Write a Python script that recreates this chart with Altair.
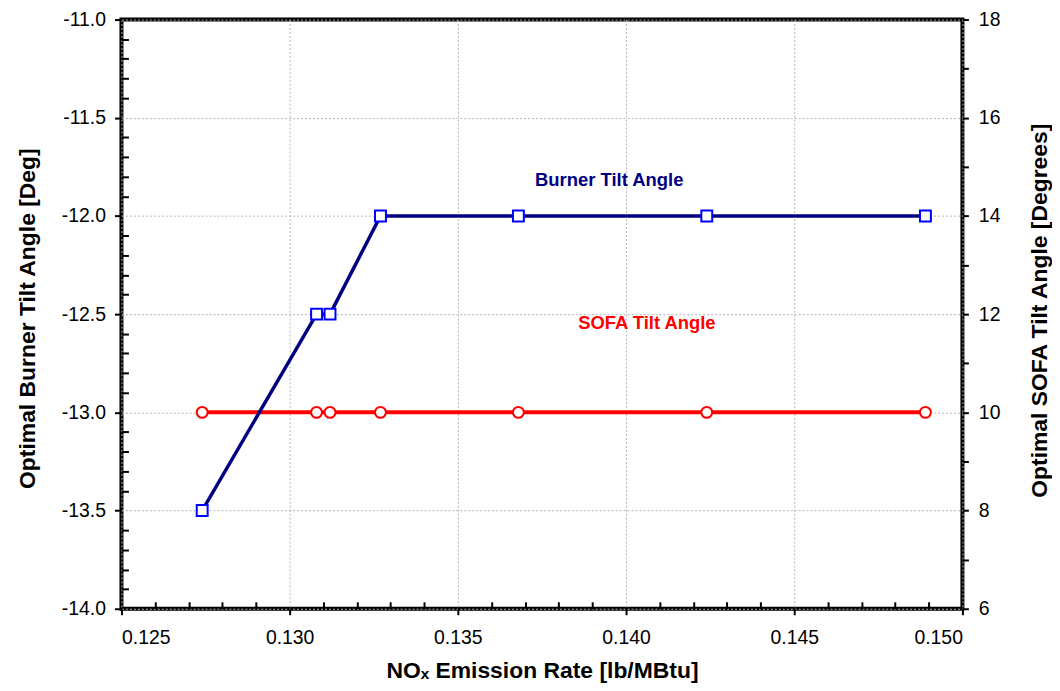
import altair as alt
import numpy as np
import pandas as pd

# ---- data ----
nox = [0.1274, 0.1308, 0.1312, 0.1327, 0.1368, 0.1424, 0.1489]
burner = [-13.5, -12.5, -12.5, -12.0, -12.0, -12.0, -12.0]
sofa = [10, 10, 10, 10, 10, 10, 10]

x_major = [0.125, 0.130, 0.135, 0.140, 0.145, 0.150]
yl_major = [-14.0, -13.5, -13.0, -12.5, -12.0, -11.5, -11.0]
yr_ticks = [round(v, 1) for v in np.arange(6, 18.01, 0.5)]
x_minor = [round(v, 4) for v in np.arange(0.125, 0.1501, 0.001) if round(v, 4) not in x_major]
yl_minor = [round(v, 2) for v in np.arange(-14, -10.99, 0.1) if round(v, 2) not in yl_major]

burner_label = pd.DataFrame({"nox": [0.1395], "burner": [-11.815], "text": ["Burner Tilt Angle"]})
sofa_label = pd.DataFrame({"nox": [0.14062], "sofa": [11.82], "text": ["SOFA Tilt Angle"]})

df = pd.DataFrame({"nox": nox, "burner": burner, "sofa": sofa})

FONT = "Liberation Sans"
W, H = 845, 592
LABEL_SIZE = 19.5
TITLE_SIZE = 23

x_scale = alt.Scale(domain=[0.125, 0.150], nice=False, zero=False)
yl_scale = alt.Scale(domain=[-14, -11], nice=False, zero=False)
yr_scale = alt.Scale(domain=[6, 18], nice=False, zero=False)

x_axis = alt.Axis(
    values=x_major, format=".3f", title="NOₓ Emission Rate [lb/MBtu]",
    grid=True, gridDash=[2, 2], gridColor="#b4b4b4", gridWidth=1,
    domain=False, tickSize=6, tickWidth=2, tickColor="black",
    labelFontSize=LABEL_SIZE, labelPadding=14, labelColor="black", labelFont=FONT,
    titleFont=FONT, titleFontSize=TITLE_SIZE, titleFontWeight="bold", titleColor="black",
    titleX=W / 2, titleY=62, titleBaseline="middle", titleAnchor="middle",
)

yl_axis = alt.Axis(
    values=yl_major, format=".1f", labelExpr="replace(datum.label, '\u2212', '-')",
    title="Optimal Burner Tilt Angle [Deg]",
    grid=True, gridDash=[2, 2], gridColor="#b4b4b4", gridWidth=1,
    domain=False, tickSize=7, tickWidth=2, tickColor="black",
    labelFontSize=LABEL_SIZE, labelPadding=9, labelColor="black", labelFont=FONT,
    titleFont=FONT, titleFontSize=TITLE_SIZE, titleFontWeight="bold", titleColor="black",
    titleAngle=270, titleX=-94, titleY=H / 2 + 4, titleBaseline="middle", titleAlign="center",
)

yr_axis = alt.Axis(
    orient="right", values=yr_ticks, format=".0f",
    labelExpr="datum.value % 2 == 0 ? datum.label : ''",
    title="Optimal SOFA Tilt Angle [Degrees]", grid=False,
    domain=False, tickSize=6, tickWidth=2, tickColor="black",
    labelFontSize=LABEL_SIZE, labelPadding=10, labelColor="black", labelFont=FONT,
    titleFont=FONT, titleFontSize=TITLE_SIZE, titleFontWeight="bold", titleColor="black",
    titleAngle=270, titleX=77, titleY=H / 2 - 4, titleBaseline="middle", titleAlign="center",
)

base = alt.Chart(df)

burner_line = base.mark_line(color="#000080", strokeWidth=3.5).encode(
    x=alt.X("nox:Q", scale=x_scale, axis=x_axis),
    y=alt.Y("burner:Q", scale=yl_scale, axis=yl_axis),
)
burner_pts = base.mark_point(shape="square", color="#0000ff", fill="white", filled=False,
                             size=120, strokeWidth=2, opacity=1).encode(
    x=alt.X("nox:Q", scale=x_scale),
    y=alt.Y("burner:Q", scale=yl_scale),
)
burner_text = alt.Chart(burner_label).mark_text(
    font=FONT, fontSize=18.5, fontWeight="bold", color="#000080", baseline="middle", align="center"
).encode(
    x=alt.X("nox:Q", scale=x_scale),
    y=alt.Y("burner:Q", scale=yl_scale),
    text="text:N",
)

sofa_line = base.mark_line(color="#ff0000", strokeWidth=4).encode(
    x=alt.X("nox:Q", scale=x_scale),
    y=alt.Y("sofa:Q", scale=yr_scale, axis=yr_axis),
)
sofa_pts = base.mark_point(shape="circle", color="#ff0000", fill="white", filled=False,
                           size=120, strokeWidth=2, opacity=1).encode(
    x=alt.X("nox:Q", scale=x_scale),
    y=alt.Y("sofa:Q", scale=yr_scale),
)
sofa_text = alt.Chart(sofa_label).mark_text(
    font=FONT, fontSize=18.5, fontWeight="bold", color="#ff0000", baseline="middle", align="center"
).encode(
    x=alt.X("nox:Q", scale=x_scale),
    y=alt.Y("sofa:Q", scale=yr_scale),
    text="text:N",
)

right = alt.layer(sofa_line, sofa_pts, sofa_text)
left = alt.layer(burner_line, burner_pts, burner_text)

main = alt.layer(right, left).resolve_scale(y="independent")

minor_x = base.mark_point(opacity=0).encode(
    x=alt.X("nox:Q", scale=x_scale,
            axis=alt.Axis(orient="bottom", values=x_minor, offset=-7, tickSize=7, tickWidth=2,
                          tickColor="black", labels=False, domain=False, grid=False, title=None)),
)
minor_y = base.mark_point(opacity=0).encode(
    y=alt.Y("burner:Q", scale=yl_scale,
            axis=alt.Axis(orient="left", values=yl_minor, offset=-7, tickSize=7, tickWidth=2,
                          tickColor="black", labels=False, domain=False, grid=False, title=None)),
)

chart = alt.layer(main, minor_x, minor_y).resolve_scale(
    x="independent", y="independent"
).properties(
    width=W, height=H,
    autosize=alt.AutoSizeParams(type="none"),
    padding={"left": 114, "top": 10, "right": 90, "bottom": 76},
).configure_view(stroke="black", strokeWidth=4)

chart.save("out.html", embed_options={"renderer": "svg", "actions": False})
